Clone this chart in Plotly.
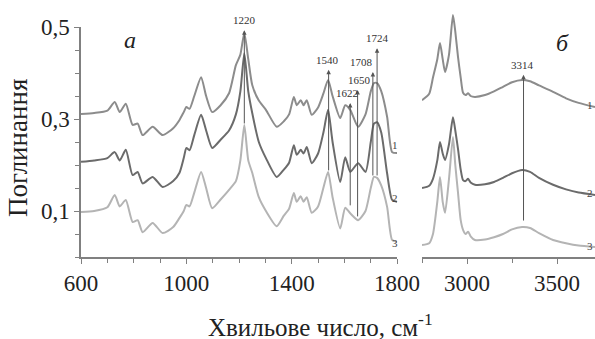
import plotly.graph_objects as go

# ---------------- data ----------------
wn_left = [600, 650, 700, 728, 747, 770, 796, 815, 834, 872, 910, 950, 974, 990, 1000, 1012,
           1030, 1056, 1075, 1098, 1130, 1162, 1188, 1205, 1220, 1235, 1250, 1275, 1302, 1343,
           1370, 1390, 1408, 1419, 1434, 1445, 1457, 1476, 1500, 1520, 1538, 1555, 1584, 1603,
           1622, 1652, 1680, 1700, 1712, 1724, 1740, 1762, 1781, 1800]
abs1_left = [0.311, 0.313, 0.318, 0.337, 0.315, 0.333, 0.287, 0.29, 0.265, 0.283, 0.265, 0.28,
             0.298, 0.315, 0.326, 0.322, 0.35, 0.391, 0.35, 0.315, 0.33, 0.356, 0.417, 0.44,
             0.487, 0.43, 0.374, 0.34, 0.32, 0.283, 0.295, 0.31, 0.348, 0.33, 0.341, 0.33,
             0.341, 0.309, 0.325, 0.355, 0.385, 0.35, 0.302, 0.33, 0.32, 0.283, 0.31, 0.36,
             0.378, 0.378, 0.36, 0.305, 0.228, 0.226]
abs2_left = [0.207, 0.21, 0.215, 0.228, 0.21, 0.233, 0.178, 0.185, 0.16, 0.174, 0.152, 0.165,
             0.183, 0.215, 0.237, 0.232, 0.265, 0.309, 0.275, 0.237, 0.255, 0.275, 0.31, 0.36,
             0.443, 0.36, 0.313, 0.25, 0.215, 0.174, 0.19, 0.205, 0.243, 0.222, 0.233, 0.225,
             0.239, 0.204, 0.225, 0.27, 0.32, 0.25, 0.163, 0.217, 0.185, 0.204, 0.185, 0.25,
             0.29, 0.293, 0.27, 0.182, 0.124, 0.12]
abs3_left = [0.098, 0.1, 0.108, 0.135, 0.11, 0.124, 0.076, 0.08, 0.054, 0.074, 0.052, 0.065,
             0.085, 0.1, 0.113, 0.11, 0.14, 0.185, 0.15, 0.106, 0.125, 0.146, 0.165, 0.21,
             0.287, 0.21, 0.183, 0.13, 0.1, 0.067, 0.09, 0.105, 0.139, 0.12, 0.132, 0.12,
             0.13, 0.096, 0.11, 0.15, 0.185, 0.13, 0.062, 0.107, 0.095, 0.08, 0.1, 0.15,
             0.174, 0.172, 0.155, 0.109, 0.037, 0.033]

wn_right = [2750, 2790, 2811, 2835, 2850, 2865, 2878, 2900, 2922, 2935, 2950, 2965, 2978, 2992,
            3006, 3020, 3044, 3100, 3150, 3200, 3250, 3306, 3350, 3400, 3478, 3550, 3620, 3711]
abs1_right = [0.341, 0.355, 0.39, 0.43, 0.465, 0.43, 0.402, 0.44, 0.526, 0.49, 0.435, 0.39,
              0.357, 0.352, 0.356, 0.35, 0.348, 0.352, 0.36, 0.37, 0.38, 0.385, 0.382, 0.373,
              0.359, 0.345, 0.335, 0.326]
abs2_right = [0.15, 0.155, 0.17, 0.21, 0.25, 0.225, 0.211, 0.245, 0.304, 0.275, 0.235, 0.19,
              0.167, 0.165, 0.17, 0.162, 0.157, 0.158, 0.163, 0.172, 0.182, 0.189, 0.185, 0.172,
              0.157, 0.147, 0.14, 0.135]
abs3_right = [0.026, 0.03, 0.05, 0.12, 0.174, 0.12, 0.096, 0.17, 0.261, 0.2, 0.14, 0.08,
              0.059, 0.05, 0.055, 0.045, 0.037, 0.038, 0.043, 0.05, 0.06, 0.065, 0.063, 0.052,
              0.037, 0.03, 0.025, 0.022]

curve_names = ["1", "2", "3"]

# peak markers: wavenumber, arrow tip, arrow foot (absorbance)
peaks_left = [1220, 1540, 1622, 1650, 1708, 1724]
peak_tip_left = [0.493, 0.407, 0.335, 0.363, 0.402, 0.454]
peak_foot_left = [0.287, 0.185, 0.109, 0.085, 0.174, 0.174]
peaks_right = [3314]
peak_tip_right = [0.396]
peak_foot_right = [0.076]

y_ticks = [0.1, 0.3, 0.5]
x_ticks_left = [600, 1000, 1400, 1800]
x_ticks_right = [3000, 3500]

# ---------------- styling ----------------
colors = ["#8c8c8c", "#6b6b6b", "#b4b4b4"]
SERIF = "Liberation Serif"
AX = "#808080"
Y_TOP_R = 0.5 * 247 / 230

fig = go.Figure()
for ys, c, n in zip([abs1_left, abs2_left, abs3_left], colors, curve_names):
    fig.add_trace(go.Scatter(x=wn_left, y=ys, mode="lines", name=n,
                             line=dict(color=c, width=2, shape="spline", smoothing=0.6),
                             xaxis="x", yaxis="y", showlegend=False, hoverinfo="skip"))
for ys, c, n in zip([abs1_right, abs2_right, abs3_right], colors, curve_names):
    fig.add_trace(go.Scatter(x=wn_right, y=ys, mode="lines", name=n,
                             line=dict(color=c, width=2, shape="spline", smoothing=0.6),
                             xaxis="x2", yaxis="y2", showlegend=False, hoverinfo="skip"))

ann = []
def peak_marks(peaks, tips, feet, xr, yr):
    for p, t, f in zip(peaks, tips, feet):
        ann.append(dict(x=p, y=t, ax=p, ay=f, xref=xr, yref=yr, axref=xr, ayref=yr,
                        text="", showarrow=True, arrowhead=2, arrowsize=0.9,
                        arrowwidth=1, arrowcolor="#555555"))

peak_marks(peaks_left, peak_tip_left, peak_foot_left, "x", "y")
peak_marks(peaks_right, peak_tip_right, peak_foot_right, "x2", "y2")

label_x_left = [1220, 1535, 1610, 1656, 1708, 1724]
label_anchor = ["center", "center", "center", "center", "right", "center"]
for p, lx, t, xa in zip(peaks_left, label_x_left, peak_tip_left, label_anchor):
    ann.append(dict(x=lx + (8 if xa == "right" else 0), y=t + 0.004, xref="x", yref="y",
                    text=str(p), showarrow=False, xanchor=xa, yanchor="bottom",
                    font=dict(family=SERIF, size=11, color="#333333")))
for p, t in zip(peaks_right, peak_tip_right):
    ann.append(dict(x=p - 8, y=t + 0.004, xref="x2", yref="y2", text=str(p),
                    showarrow=False, xanchor="center", yanchor="bottom",
                    font=dict(family=SERIF, size=11, color="#333333")))

# curve numbers
for n, yv in zip(curve_names, [0.243, 0.128, 0.03]):
    ann.append(dict(x=1792, y=yv, xref="x", yref="y", text=n, showarrow=False,
                    xanchor="center", yanchor="middle",
                    font=dict(family=SERIF, size=11, color="#444444")))
for n, yv in zip(curve_names, [0.33, 0.14, 0.025]):
    ann.append(dict(x=3711, y=yv, xref="x2", yref="y2", text=n, showarrow=False,
                    xanchor="right", yanchor="middle",
                    font=dict(family=SERIF, size=11, color="#444444")))

# panel letters
ann.append(dict(x=786, y=0.472, xref="x", yref="y", text="<i>а</i>", showarrow=False,
                font=dict(family=SERIF, size=24, color="#222222")))
ann.append(dict(x=3533, y=0.465, xref="x2", yref="y2", text="<i>б</i>", showarrow=False,
                font=dict(family=SERIF, size=24, color="#222222")))

# axis titles
ann.append(dict(x=0.465, y=-0.275, xref="paper", yref="paper",
                text="Хвильове число, см<sup>-1</sup>", showarrow=False,
                xanchor="center", yanchor="middle",
                font=dict(family=SERIF, size=25, color="#222222")))
ann.append(dict(x=-0.1226, y=0.441, xref="paper", yref="paper", text="Поглинання",
                showarrow=False, textangle=-90, xanchor="center", yanchor="middle",
                font=dict(family=SERIF, size=27, color="#222222")))

tickfont = dict(family=SERIF, size=23, color="#222222")

fig.update_layout(
    width=595, height=339,
    margin=dict(l=81, r=0, t=10, b=82, autoexpand=False),
    paper_bgcolor="white", plot_bgcolor="white",
    separators=", ",
    showlegend=False,
    annotations=ann,
    xaxis=dict(domain=[0, 0.615], range=[600, 1800], tickvals=x_ticks_left,
               showline=True, linecolor=AX, linewidth=1.5, ticks="outside", ticklen=5,
               tickcolor=AX, tickwidth=1.2, tickfont=tickfont, showgrid=False, zeroline=False,
               minor=dict(tick0=600, dtick=100, ticks="outside", ticklen=4, tickcolor=AX,
                          showgrid=False),
               anchor="y", automargin=False),
    yaxis=dict(domain=[0, 230 / 247], range=[0, 0.5], tickvals=y_ticks, tickformat=".1f",
               showline=True, linecolor=AX, linewidth=1.5, ticks="outside", ticklen=5,
               tickcolor=AX, tickwidth=1.2, tickfont=tickfont, showgrid=False, zeroline=False,
               minor=dict(tick0=0, dtick=0.05, ticks="outside", ticklen=4, tickcolor=AX,
                          showgrid=False),
               anchor="x", automargin=False),
    xaxis2=dict(domain=[(422 - 81) / 514, 1], range=[2750, 3711], tickvals=x_ticks_right,
                showline=True, linecolor=AX, linewidth=1.5, ticks="outside", ticklen=5,
                tickcolor=AX, tickwidth=1.2, tickfont=tickfont, showgrid=False, zeroline=False,
                minor=dict(tick0=2750, dtick=250, ticks="outside", ticklen=4, tickcolor=AX,
                           showgrid=False),
                anchor="y2", automargin=False),
    yaxis2=dict(domain=[0, 1], range=[0, Y_TOP_R], showline=False, showticklabels=False,
                ticks="", showgrid=False, zeroline=False, anchor="x2", automargin=False),
)

fig.write_html("out.html")
